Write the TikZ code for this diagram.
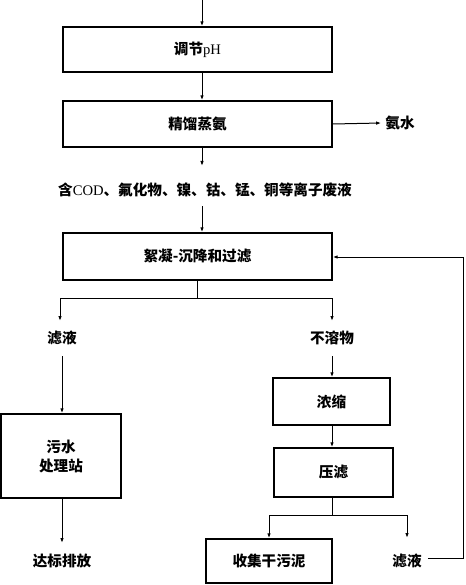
\documentclass[tikz,border=0pt]{standalone}
\usepackage{fontspec}
\setmainfont{Liberation Serif}
\newfontfamily\cjk{Noto Sans CJK SC}
\usetikzlibrary{arrows.meta}
\tikzset{
  box/.style={draw, line width=1.4pt, inner sep=0pt, align=center},
  lbl/.style={inner sep=0pt, align=center},
  flow/.style={line width=1pt, -{Latex[length=5pt,width=3.5pt]}},
  ln/.style={line width=1pt},
}
\newcommand{\lat}[1]{{\rmfamily\mdseries #1}}
\begin{document}
\begin{tikzpicture}[x=1pt,y=-1pt, font=\cjk\bfseries\fontsize{14.6}{19}\selectfont]
\useasboundingbox (0,0) rectangle (465,585);
\node[box, minimum width=269pt, minimum height=45pt] (b1) at (197.5,49.5) {调节\lat{pH}};
\node[box, minimum width=269pt, minimum height=46pt] (b2) at (197.5,124) {精馏蒸氨};
\node[lbl] (nh3) at (400,123) {氨水};
\node[lbl] (waste) at (205,190) {含\lat{COD}、氟化物、镍、钴、锰、铜等离子废液};
\node[box, minimum width=269pt, minimum height=47pt] (b3) at (197.5,256.5) {絮凝-沉降和过滤};
\node[lbl] (fl1) at (62,338) {滤液};
\node[lbl] (ins) at (332,338) {不溶物};
\node[box, minimum width=120pt, minimum height=84pt] (ws) at (61,456) {污水\\处理站};
\node[lbl] (dis) at (62,561) {达标排放};
\node[box, minimum width=117pt, minimum height=47pt] (con) at (331.5,401.5) {浓缩};
\node[box, minimum width=119pt, minimum height=49pt] (pf) at (333.5,472.5) {压滤};
\node[box, minimum width=126pt, minimum height=44pt] (dry) at (269,561) {收集干污泥};
\node[lbl] (fl2) at (407,561) {滤液};

\coordinate (top) at (202,0);
\draw[flow] (top) -- (top |- b1.north);
\draw[flow] (b1.south -| top) -- (b2.north -| top);
\draw[flow] (b2.east) -- ([xshift=-4pt]nh3.west);
\coordinate (a1) at (202,166);
\draw[flow] (b2.south -| top) -- (a1);
\coordinate (a2) at (202,206);
\draw[flow] (a2) -- (b3.north -| a2);
% split under b3
\coordinate (s1) at (197.5,298);
\coordinate (sl) at (60,298);
\coordinate (sr) at (332,298);
\draw[ln] (b3.south) -- (s1);
\draw[ln] (sl) -- (sr);
\draw[flow] (sl) -- (60,321);
\draw[flow] (sr) -- (332,321);
\coordinate (a3) at (62,356);
\draw[flow] (a3) -- (ws.north -| a3);
\draw[flow] (ws.south -| a3) -- (62,543);
\coordinate (a4) at (332,356);
\draw[flow] (a4) -- (con.north -| a4);
\draw[flow] (con.south -| a4) -- (pf.north -| a4);
% split under pf
\coordinate (s2) at (332,515);
\coordinate (s2l) at (269,515);
\coordinate (s2r) at (407,515);
\draw[ln] (pf.south -| s2) -- (s2);
\draw[ln] (s2l) -- (s2r);
\draw[flow] (s2l) -- (dry.north);
\draw[flow] (s2r) -- (407,538);
% feedback
\coordinate (r1) at (463,558);
\coordinate (r2) at (463,257);
\draw[flow] ([xshift=6pt]fl2.east |- r1) -- (r1) -- (r2) -- (b3.east |- r2);
\end{tikzpicture}
\end{document}
